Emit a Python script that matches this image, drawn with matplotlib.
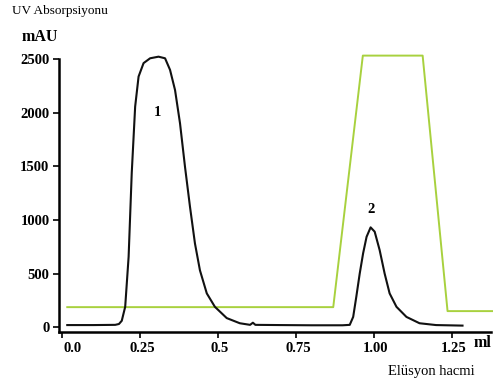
import matplotlib
matplotlib.use("Agg")
import matplotlib.pyplot as plt
from matplotlib.transforms import ScaledTranslation

# Elution volume (ml) and UV absorbance (mAU)
uv_x = [0.016, 0.10, 0.170, 0.182, 0.191, 0.202, 0.213, 0.223, 0.234, 0.245, 0.261, 0.282, 0.309,
        0.330, 0.346, 0.362, 0.378, 0.394, 0.410, 0.426, 0.442, 0.464, 0.490, 0.528, 0.570,
        0.603, 0.612, 0.620, 0.700, 0.800, 0.900, 0.923, 0.934, 0.944, 0.955, 0.966, 0.977,
        0.990, 1.003, 1.019, 1.035, 1.051, 1.073, 1.105, 1.147, 1.200, 1.285]
uv_y = [20, 20, 22, 30, 60, 190, 656, 1435, 2055, 2335, 2460, 2505, 2520,
        2505, 2397, 2210, 1900, 1495, 1123, 780, 530, 315, 190, 85, 37,
        22, 42, 22, 20, 18, 18, 22, 96, 283, 500, 690, 842,
        930, 890, 718, 500, 315, 190, 96, 37, 20, 15]

# Gradient (green) line
grad_x = [0.016, 0.87, 0.965, 1.157, 1.237, 1.38]
grad_y = [187, 187, 2530, 2530, 150, 150]

yticks = [0, 500, 1000, 1500, 2000, 2500]
xticks = [0.0, 0.25, 0.5, 0.75, 1.00, 1.25]
xticklabels = ["0.0", "0.25", "0.5", "0.75", "1.00", "1.25"]

serif = ["Liberation Serif", "DejaVu Serif"]
plt.rcParams["font.family"] = serif

fig = plt.figure(figsize=(4.93, 3.87), dpi=100)
ax = fig.add_axes([0.12, 0.142, 0.875, 0.706])

ax.plot(grad_x, grad_y, color="#a8d13e", lw=1.4, clip_on=False)
ax.plot(uv_x, uv_y, color="#111111", lw=1.5, clip_on=False, solid_joinstyle="round")

ax.set_xlim(-0.01, 1.375)
ax.set_ylim(-45, 2500)
ax.set_yticks(yticks)
ax.set_xticks(xticks)
ax.set_xticklabels(xticklabels)
for s in ["top", "right"]:
    ax.spines[s].set_visible(False)
for s in ["left", "bottom"]:
    ax.spines[s].set_linewidth(1.8)
ax.tick_params(direction="out", length=4, width=1.2, labelsize=10.5, pad=3)
for lab in ax.get_xticklabels() + ax.get_yticklabels():
    lab.set_fontweight("bold")
# first x label sits a little to the right in the original
first = ax.get_xticklabels()[0]
first.set_transform(first.get_transform() + ScaledTranslation(10/100, 0, fig.dpi_scale_trans))
for lab in ax.get_xticklabels()[1:]:
    lab.set_transform(lab.get_transform() + ScaledTranslation(2/100, 0, fig.dpi_scale_trans))

ax.text(0.305, 2000, "1", fontsize=10.5, fontweight="bold", ha="center", va="center")
ax.text(0.99, 1100, "2", fontsize=10.5, fontweight="bold", ha="center", va="center")

fig.text(12/493, 1 - 11/387, "UV Absorpsiyonu", fontsize=9.5, ha="left", va="center")
fig.text(22/493, 1 - 37/387, "mAU", fontsize=11.5, fontweight="bold", ha="left", va="center")
fig.text(483/493, 1 - 343/387, "ml", fontsize=11.5, fontweight="bold", ha="center", va="center")
fig.text(431/493, 1 - 372/387, "Elüsyon hacmi", fontsize=10.5, ha="center", va="center")

fig.savefig("out.png", dpi=100)
